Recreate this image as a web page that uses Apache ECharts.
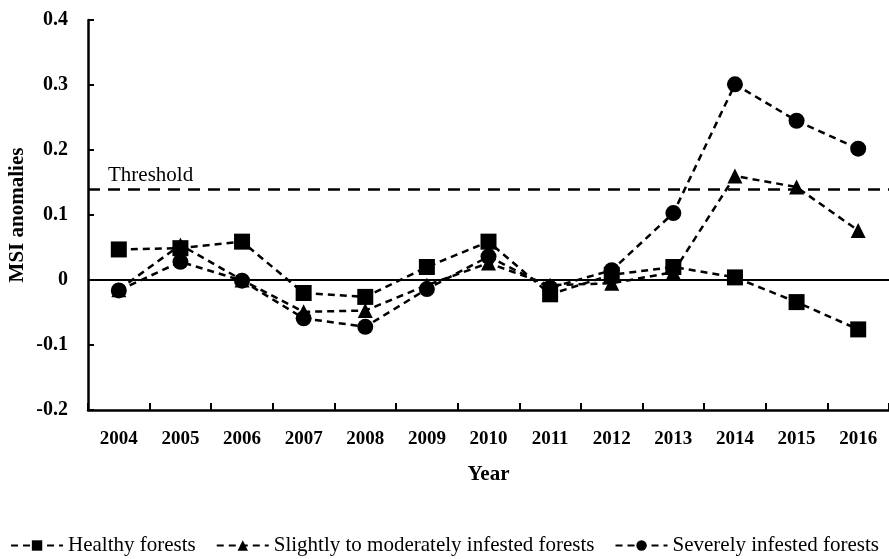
<!DOCTYPE html>
<html>
<head>
<meta charset="utf-8">
<script src="https://cdn.jsdelivr.net/npm/echarts@6/dist/echarts.min.js"></script>
<style>
  html, body { margin: 0; padding: 0; background: #fff; }
  #chart { width: 889px; height: 559px; }
</style>
</head>
<body>
<div id="chart"></div>
<script>
// MSI anomalies per year for three forest condition classes
const years = ['2004', '2005', '2006', '2007', '2008', '2009', '2010', '2011', '2012', '2013', '2014', '2015', '2016'];
const healthy = [0.047, 0.049, 0.059, -0.020, -0.026, 0.020, 0.059, -0.022, 0.008, 0.020, 0.004, -0.034, -0.076];
const slightlyModerate = [-0.015, 0.054, 0.000, -0.049, -0.047, -0.008, 0.026, -0.008, -0.005, 0.012, 0.160, 0.143, 0.076];
const severe = [-0.016, 0.028, -0.001, -0.059, -0.072, -0.014, 0.036, -0.012, 0.015, 0.103, 0.301, 0.245, 0.202];
const threshold = 0.138;
const seriesNames = ['Healthy forests', 'Slightly to moderately infested forests', 'Severely infested forests'];

const FONT = '"Liberation Serif", "DejaVu Serif", serif';

const lineStyle = { color: '#000', width: 2.5, type: [7, 5] };

function makeSeries(name, data, symbol, size) {
  return {
    name: name,
    type: 'line',
    data: data,
    symbol: symbol,
    symbolSize: size,
    itemStyle: { color: '#000' },
    lineStyle: lineStyle,
    emphasis: { disabled: true },
    z: 3
  };
}

const series = [
  makeSeries(seriesNames[0], healthy, 'rect', 16),
  makeSeries(seriesNames[1], slightlyModerate, 'triangle', 15),
  makeSeries(seriesNames[2], severe, 'circle', 16)
];

// threshold and zero reference lines
series[0].markLine = {
  silent: true,
  symbol: 'none',
  animation: false,
  data: [
    {
      yAxis: threshold,
      lineStyle: { color: '#000', width: 2.5, type: [12, 8] },
      label: {
        show: true,
        formatter: 'Threshold',
        position: 'insideStartTop',
        distance: [20, 3],
        color: '#000',
        fontFamily: FONT,
        fontSize: 21
      }
    },
    {
      yAxis: 0,
      lineStyle: { color: '#000', width: 2, type: 'solid' },
      label: { show: false }
    }
  ]
};

const chart = echarts.init(document.getElementById('chart'), null, { renderer: 'canvas' });
chart.setOption({
  animation: false,
  backgroundColor: '#fff',
  grid: { left: 88, right: 0, top: 20, bottom: 149, outerBoundsMode: 'none', containLabel: false },
  legend: {
    bottom: -2,
    left: 'center',
    itemWidth: 52,
    itemHeight: 13,
    itemGap: 20,
    textStyle: { color: '#000', fontFamily: FONT, fontSize: 21 },
    data: seriesNames
  },
  xAxis: {
    type: 'category',
    data: years,
    boundaryGap: true,
    name: 'Year',
    nameLocation: 'middle',
    nameGap: 54,
    nameTextStyle: { color: '#000', fontFamily: FONT, fontSize: 21, fontWeight: 'bold' },
    axisLine: { onZero: false, lineStyle: { color: '#000', width: 2.5 } },
    axisTick: { show: true, interval: 0, inside: true, length: 7, lineStyle: { color: '#000', width: 2 } },
    axisLabel: { color: '#000', fontFamily: FONT, fontSize: 19, fontWeight: 'bold', margin: 20 },
    splitLine: { show: false }
  },
  yAxis: {
    type: 'value',
    min: -0.2,
    max: 0.4,
    interval: 0.1,
    name: 'MSI anomalies',
    nameLocation: 'middle',
    nameGap: 60,
    nameMoveOverlap: false,
    nameRotate: 90,
    nameTextStyle: { color: '#000', fontFamily: FONT, fontSize: 21, fontWeight: 'bold' },
    axisLine: { show: true, onZero: false, lineStyle: { color: '#000', width: 2.5 } },
    axisTick: { show: true, inside: true, length: 6, lineStyle: { color: '#000', width: 2 } },
    axisLabel: {
      color: '#000', fontFamily: FONT, fontSize: 20, fontWeight: 'bold', margin: 20,
      formatter: function (v) { return Math.abs(v) < 1e-9 ? '0' : v.toFixed(1); }
    },
    splitLine: { show: false }
  },
  series: series
});
</script>
</body>
</html>
